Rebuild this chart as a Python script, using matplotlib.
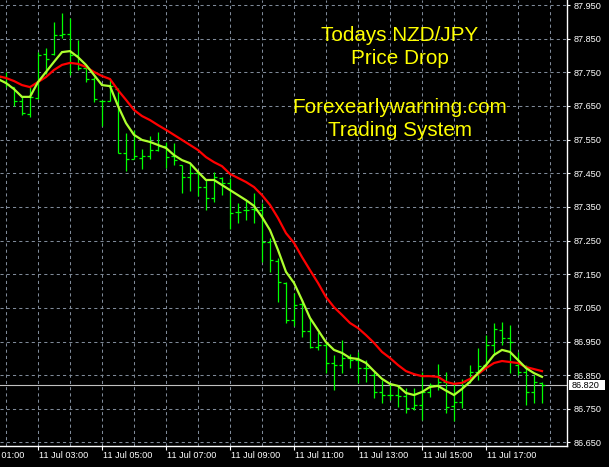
import numpy as np
import pandas as pd
import matplotlib
matplotlib.use("Agg")
import matplotlib.pyplot as plt
import matplotlib.transforms as mtrans
from matplotlib.patches import Rectangle

# ---------------- data (M15 bars, NZD/JPY, 11 Jul) ----------------
start_time = "2018-07-11 01:45"
opens = [87.742, 87.735, 87.705, 87.665, 87.625, 87.675, 87.805, 87.805, 87.862, 87.864,
         87.800, 87.762, 87.730, 87.665, 87.665, 87.700, 87.510, 87.492, 87.495, 87.500,
         87.520, 87.530, 87.500, 87.474, 87.440, 87.450, 87.410, 87.376, 87.435, 87.420,
         87.335, 87.340, 87.345, 87.340, 87.245, 87.190, 87.125, 87.015, 87.060, 86.980,
         86.935, 86.940, 86.886, 86.880, 86.901, 86.895, 86.871, 86.850, 86.800, 86.791,
         86.790, 86.788, 86.752, 86.760, 86.800, 86.820, 86.830, 86.758, 86.770, 86.830,
         86.860, 86.880, 86.940, 86.985, 86.960, 86.880, 86.860, 86.800, 86.826]
highs = [87.748, 87.751, 87.706, 87.677, 87.706, 87.810, 87.822, 87.899, 87.926, 87.911,
         87.846, 87.766, 87.736, 87.667, 87.727, 87.703, 87.570, 87.579, 87.522, 87.561,
         87.573, 87.543, 87.540, 87.474, 87.480, 87.451, 87.430, 87.454, 87.439, 87.436,
         87.362, 87.370, 87.391, 87.362, 87.258, 87.198, 87.127, 87.094, 87.073, 87.020,
         86.978, 86.948, 86.910, 86.954, 86.913, 86.919, 86.895, 86.859, 86.836, 86.827,
         86.821, 86.812, 86.812, 86.859, 86.827, 86.883, 86.859, 86.830, 86.839, 86.880,
         86.931, 86.969, 87.005, 87.008, 86.999, 86.919, 86.880, 86.850, 86.830]
lows = [87.728, 87.706, 87.650, 87.623, 87.617, 87.671, 87.745, 87.801, 87.852, 87.742,
        87.757, 87.721, 87.662, 87.590, 87.665, 87.510, 87.457, 87.492, 87.463, 87.492,
        87.516, 87.466, 87.474, 87.391, 87.397, 87.382, 87.341, 87.365, 87.385, 87.284,
        87.302, 87.311, 87.302, 87.186, 87.157, 87.067, 87.005, 86.996, 86.963, 86.931,
        86.925, 86.856, 86.806, 86.856, 86.871, 86.827, 86.830, 86.782, 86.767, 86.776,
        86.755, 86.738, 86.746, 86.717, 86.785, 86.806, 86.738, 86.714, 86.752, 86.827,
        86.836, 86.874, 86.910, 86.940, 86.856, 86.850, 86.761, 86.767, 86.767]
closes = [87.735, 87.715, 87.665, 87.630, 87.677, 87.800, 87.790, 87.860, 87.865, 87.800,
          87.762, 87.730, 87.670, 87.664, 87.710, 87.510, 87.492, 87.500, 87.500, 87.519,
          87.531, 87.498, 87.490, 87.440, 87.450, 87.410, 87.376, 87.440, 87.420, 87.332,
          87.336, 87.341, 87.341, 87.247, 87.192, 87.128, 87.014, 87.058, 86.980, 86.935,
          86.940, 86.886, 86.880, 86.901, 86.895, 86.871, 86.870, 86.800, 86.791, 86.790,
          86.788, 86.752, 86.760, 86.800, 86.820, 86.830, 86.755, 86.770, 86.830, 86.860,
          86.877, 86.940, 86.987, 86.960, 86.949, 86.860, 86.800, 86.830, 86.820]
fast_ma = [87.730, 87.718, 87.700, 87.677, 87.677, 87.721, 87.751, 87.781, 87.810, 87.813,
           87.795, 87.772, 87.742, 87.712, 87.709, 87.650, 87.599, 87.564, 87.549, 87.543,
           87.534, 87.525, 87.504, 87.489, 87.480, 87.454, 87.430, 87.430, 87.415, 87.400,
           87.385, 87.370, 87.353, 87.320, 87.281, 87.222, 87.157, 87.124, 87.073, 87.020,
           86.984, 86.948, 86.925, 86.916, 86.901, 86.898, 86.886, 86.862, 86.839, 86.824,
           86.818, 86.797, 86.791, 86.800, 86.815, 86.818, 86.804, 86.791, 86.809, 86.830,
           86.856, 86.880, 86.910, 86.925, 86.919, 86.895, 86.871, 86.856, 86.845]
slow_ma = [87.739, 87.733, 87.724, 87.712, 87.706, 87.721, 87.736, 87.757, 87.772, 87.778,
           87.775, 87.766, 87.751, 87.739, 87.730, 87.697, 87.668, 87.638, 87.620, 87.608,
           87.593, 87.579, 87.564, 87.549, 87.534, 87.519, 87.498, 87.483, 87.471, 87.448,
           87.436, 87.424, 87.409, 87.385, 87.356, 87.317, 87.272, 87.243, 87.201, 87.162,
           87.124, 87.082, 87.052, 87.029, 87.005, 86.990, 86.969, 86.946, 86.919, 86.901,
           86.880, 86.862, 86.853, 86.847, 86.847, 86.845, 86.830, 86.824, 86.827, 86.839,
           86.853, 86.871, 86.886, 86.892, 86.889, 86.886, 86.874, 86.868, 86.862]
bid_price = 86.820
price_levels = [87.950, 87.850, 87.750, 87.650, 87.550, 87.450, 87.350, 87.250,
                87.150, 87.050, 86.950, 86.850, 86.750, 86.650]
time_label_hours = [1, 3, 5, 7, 9, 11, 13, 15, 17]
time_labels = ["11 Jul 01:00", "11 Jul 03:00", "11 Jul 05:00", "11 Jul 07:00",
               "11 Jul 09:00", "11 Jul 11:00", "11 Jul 13:00", "11 Jul 15:00",
               "11 Jul 17:00"]
title_lines = ["Todays NZD/JPY", "Price Drop", "Forexearlywarning.com", "Trading System"]

# ---------------- figure ----------------
W, H = 609, 467
fig = plt.figure(figsize=(W / 100, H / 100), dpi=100, facecolor="black")
ax = fig.add_axes([0, 21 / H, 567 / W, 446 / H])
ax.set_facecolor("black")

times = pd.date_range(start_time, periods=len(closes), freq="15min")
t = (times.hour + times.minute / 60.0).to_numpy()

ax.set_xlim(2 - 6 / 32, 2 + 561 / 32)
ax.set_ylim(87.95 - 441 / 336.5, 87.95 + 5 / 336.5)

grid_col = "#7f8a99"
for lv in price_levels:
    ax.axhline(lv, color=grid_col, lw=0.75, ls=(0, (3, 3)), zorder=1)
for hh in range(2, 20):
    ax.axvline(hh, color=grid_col, lw=0.75, ls=(0, (3, 3)), zorder=1)

# bid line
ax.axhline(bid_price, color="#c0c0c0", lw=0.8, zorder=2)

# OHLC bars
bar_col = "#00ff00"
tick_w = 3 / 32
ax.vlines(t, lows, highs, color=bar_col, lw=0.9, zorder=3)
ax.hlines(opens, t - tick_w, t, color=bar_col, lw=0.9, zorder=3)
ax.hlines(closes, t, t + tick_w, color=bar_col, lw=0.9, zorder=3)

# moving averages
ax.plot(t, slow_ma, color="#ff0000", lw=1.6, zorder=4, solid_joinstyle="miter")
ax.plot(t, fast_ma, color="#adff2f", lw=1.6, zorder=5, solid_joinstyle="miter")

# spines
for s in ["left", "top"]:
    ax.spines[s].set_visible(False)
for s in ["right", "bottom"]:
    ax.spines[s].set_color("white")
    ax.spines[s].set_linewidth(1.0)

lab_font = "Liberation Sans"
ax.yaxis.tick_right()
ax.set_yticks(price_levels)
ax.set_yticklabels([f"{v:.3f}" for v in price_levels])
ax.tick_params(axis="y", colors="white", length=2, width=0.8, pad=2.5,
               labelsize=6.6, direction="out")
for lab in ax.get_yticklabels():
    lab.set_fontfamily(lab_font)

vis_hours = [h for h in time_label_hours if h >= 2]
ax.set_xticks(vis_hours)
ax.set_xticklabels([""] * len(vis_hours))
ax.tick_params(axis="x", colors="white", length=3, width=0.8, direction="out")

xlab_tr = mtrans.blended_transform_factory(ax.transData, fig.transFigure)
for hh, lab in zip(time_label_hours, time_labels):
    ax.text(hh + 1 / 32, 1 - 455 / H, lab, transform=xlab_tr, ha="left", va="center",
            color="white", fontsize=6.6, family=lab_font, clip_on=False)

# bid label box
ytr = mtrans.blended_transform_factory(ax.transAxes, ax.transData)
box_h = 10 / 336.5
ax.add_patch(Rectangle((568.5 / 567 - 1 + 1, bid_price - box_h / 2), 36 / 567, box_h,
                       transform=ytr, facecolor="white", edgecolor="none",
                       clip_on=False, zorder=6))
ax.text(572 / 567, bid_price, f"{bid_price:.3f}", transform=ytr, ha="left",
        va="center", color="black", fontsize=6.6, family=lab_font,
        clip_on=False, zorder=7)

# overlay text
baselines = [41, 64.3, 112.7, 136]
for line, yb in zip(title_lines, baselines):
    fig.text(400 / W, 1 - yb / H, line, ha="center", va="baseline", color="#ffff00",
             fontsize=14.9, family=lab_font)

fig.savefig("out.png", dpi=100, facecolor="black")
